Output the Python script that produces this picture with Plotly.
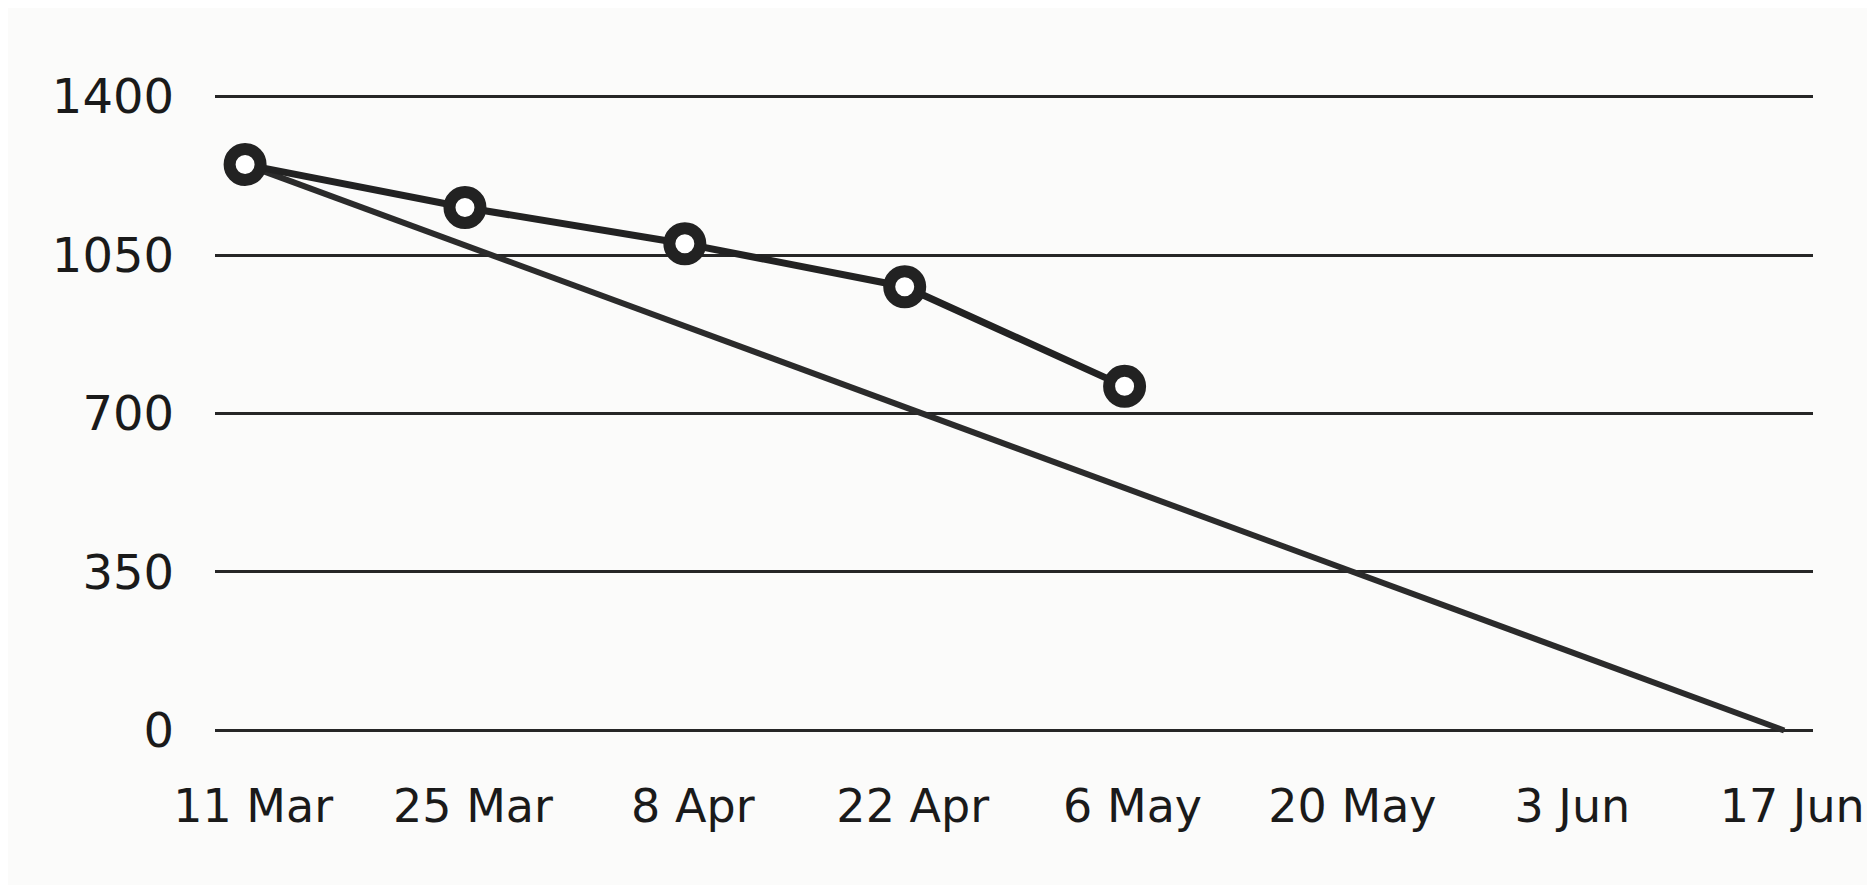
import plotly.graph_objects as go

# Data
dates = ["2024-03-11", "2024-03-25", "2024-04-08", "2024-04-22", "2024-05-06"]
remaining = [1250, 1155, 1075, 980, 760]
ideal_dates = ["2024-03-11", "2024-06-17"]
ideal_values = [1250, 0]
tick_dates = ["2024-03-11", "2024-03-25", "2024-04-08", "2024-04-22",
              "2024-05-06", "2024-05-20", "2024-06-03", "2024-06-17"]
tick_labels = ["11 Mar", "25 Mar", "8 Apr", "22 Apr", "6 May", "20 May", "3 Jun", "17 Jun"]
y_ticks = [0, 350, 700, 1050, 1400]

ink = "#222222"
paper = "#fbfbfa"

fig = go.Figure()
fig.add_trace(go.Scatter(
    x=ideal_dates, y=ideal_values, mode="lines",
    line=dict(color="#2b2b2b", width=6), hoverinfo="skip", showlegend=False))
fig.add_trace(go.Scatter(
    x=dates, y=remaining, mode="lines+markers",
    line=dict(color=ink, width=7),
    marker=dict(size=31, color="white", line=dict(color=ink, width=12)),
    showlegend=False))

fig.update_layout(
    width=1859, height=877,
    paper_bgcolor=paper, plot_bgcolor=paper,
    margin=dict(l=207, r=54, t=84, b=150, autoexpand=False),
    font=dict(family="DejaVu Sans", color="#1a1a1a"),
    xaxis=dict(
        type="date", automargin=False,
        range=["2024-03-09 02:00", "2024-06-18 20:00"],
        tickvals=tick_dates, ticktext=tick_labels,
        showgrid=False, zeroline=False, showline=False,
        ticks="", ticklabelstandoff=40, ticklabelshift=8,
        ticklabeloverflow="allow",
        tickfont=dict(size=46, color="#1a1a1a"),
    ),
    yaxis=dict(
        range=[-10, 1410], automargin=False,
        tickvals=y_ticks, ticktext=[str(v) for v in y_ticks],
        showgrid=True, gridcolor="#262626", gridwidth=3,
        zeroline=False, showline=False,
        ticks="", ticklabelstandoff=40,
        tickfont=dict(size=48, color="#1a1a1a"),
    ),
)

fig.write_html("out.html")
